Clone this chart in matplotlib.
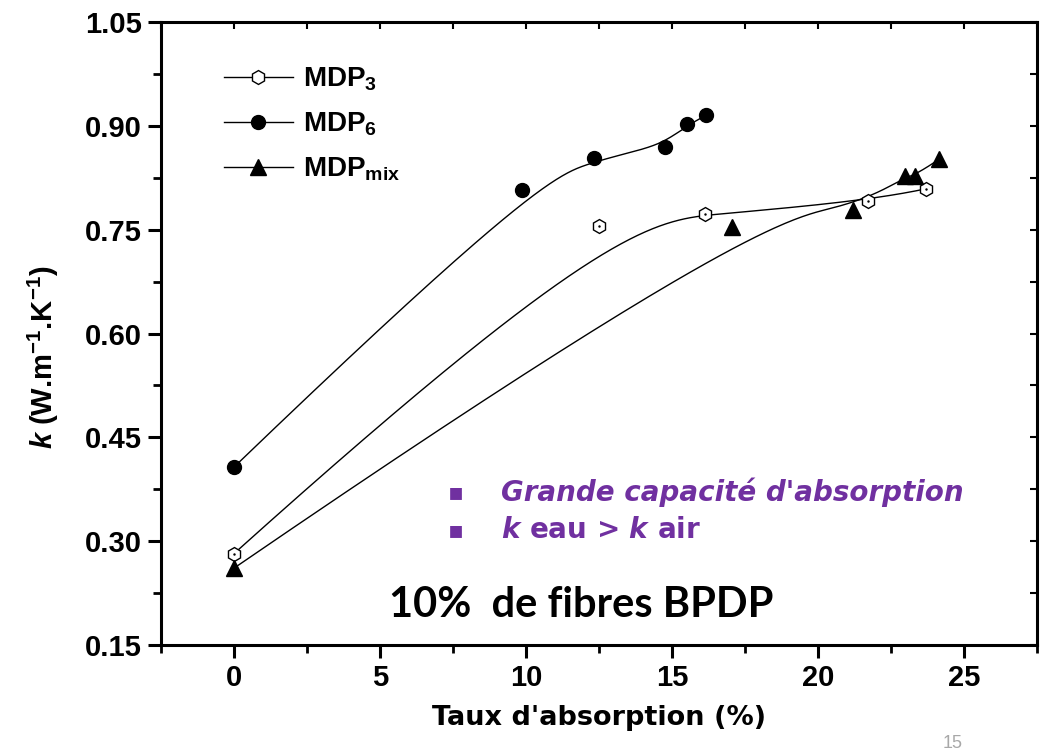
import numpy as np
import matplotlib
matplotlib.use("Agg")
import matplotlib.pyplot as plt
from matplotlib.lines import Line2D
from matplotlib.ticker import MultipleLocator, FormatStrFormatter

plt.rcParams['font.family'] = 'Liberation Sans'
plt.rcParams['mathtext.fontset'] = 'custom'
plt.rcParams['mathtext.rm'] = 'DejaVu Sans'
plt.rcParams['mathtext.it'] = 'DejaVu Sans:italic:bold'
plt.rcParams['mathtext.bf'] = 'Liberation Sans:bold'
plt.rcParams['mathtext.bfit'] = 'Liberation Sans:italic:bold'

# data
x_mdp3 = [0, 12.49, 16.15, 21.71, 23.70]
y_mdp3 = [0.282, 0.755, 0.772, 0.791, 0.809]

x_mdp6 = [0, 9.87, 12.33, 14.75, 15.52, 16.18]
y_mdp6 = [0.407, 0.807, 0.853, 0.869, 0.902, 0.915]

x_mix = [0, 17.06, 21.19, 23.00, 23.33, 24.16]
y_mix = [0.261, 0.754, 0.779, 0.828, 0.828, 0.852]

labels = [r"MDP$_{\mathbf{3}}$", r"MDP$_{\mathbf{6}}$", r"MDP$_{\mathbf{mix}}$"]


def basis(i, k, u, t):
    # Cox-de Boor recursion
    if k == 0:
        return ((t[i] <= u) & (u < t[i + 1])).astype(float)
    a = 0.0
    b = 0.0
    if t[i + k] != t[i]:
        a = (u - t[i]) / (t[i + k] - t[i]) * basis(i, k - 1, u, t)
    if t[i + k + 1] != t[i + 1]:
        b = (t[i + k + 1] - u) / (t[i + k + 1] - t[i + 1]) * basis(i + 1, k - 1, u, t)
    return a + b


def bspline(xs, ys, n=300, k=3):
    # clamped B-spline with the points as control points (Origin style)
    m = len(xs)
    t = np.r_[[0.0] * k, np.linspace(0, 1, m - k + 1), [1.0] * k]
    u = np.linspace(0, 1 - 1e-9, n)
    bx = np.zeros(n)
    by = np.zeros(n)
    for i in range(m):
        b = basis(i, k, u, t)
        bx += b * xs[i]
        by += b * ys[i]
    return bx, by


fig = plt.figure(figsize=(10.42, 7.53), dpi=100)
ax = fig.add_axes([0.1545, 0.1434, 0.8405, 0.8274])

for xs, ys in [(x_mdp3, y_mdp3), (x_mdp6, y_mdp6), (x_mix, y_mix)]:
    sx, sy = bspline(xs, ys)
    ax.plot(sx, sy, color='black', lw=1.0, zorder=2)

ax.plot(x_mdp3, y_mdp3, 'h', ms=10, mfc='white', mec='black', mew=1.0, zorder=3)
ax.plot(x_mdp3, y_mdp3, '.', ms=1.5, color='black', zorder=4)
ax.plot(x_mdp6, y_mdp6, 'o', ms=10, color='black', zorder=3)
ax.plot(x_mix, y_mix, '^', ms=11, color='black', zorder=3)

ax.set_xlim(-2.5, 27.5)
ax.set_ylim(0.15, 1.05)
ax.xaxis.set_major_locator(MultipleLocator(5))
ax.xaxis.set_minor_locator(MultipleLocator(2.5))
ax.yaxis.set_major_locator(MultipleLocator(0.15))
ax.yaxis.set_minor_locator(MultipleLocator(0.075))
ax.yaxis.set_major_formatter(FormatStrFormatter('%.2f'))

for s in ax.spines.values():
    s.set_linewidth(2.2)
ax.tick_params(which='major', direction='out', length=9.5, width=2.2,
               labelsize=21, pad=4.5)
ax.tick_params(which='minor', direction='out', length=5.5, width=2.0)
for lab in ax.get_xticklabels() + ax.get_yticklabels():
    lab.set_fontweight('bold')

# inward ticks on the top and right frame
ax2 = ax.secondary_xaxis('top')
ax2.tick_params(which='both', direction='in', length=5, width=1.5, labeltop=False)
ax2.set_xticks(np.arange(-2.5, 27.6, 2.5))
ax2.set_xticklabels([])
ax3 = ax.secondary_yaxis('right')
ax3.tick_params(which='both', direction='in', length=5, width=1.5)
ax3.set_yticks(np.arange(0.15, 1.051, 0.075))
ax3.set_yticklabels([])

ax.set_xlabel("Taux d'absorption (%)", fontsize=19.5, fontweight='bold',
              family='DejaVu Sans', labelpad=9)
fig.text(0.042, 0.525, r"$\mathbfit{k}$" + r" (W.m$^{\mathbf{-1}}$.K$^{\mathbf{-1}}$)",
         rotation=90, fontsize=21, fontweight='bold', ha='center', va='center')

handles = [
    Line2D([], [], color='black', lw=1.0, marker='h', ms=10, mfc='white', mec='black'),
    Line2D([], [], color='black', lw=1.0, marker='o', ms=10),
    Line2D([], [], color='black', lw=1.0, marker='^', ms=11),
]
ax.legend(handles, labels, loc='upper left', bbox_to_anchor=(0.059, 0.948),
          frameon=False, prop={'family': 'Liberation Sans', 'weight': 'bold', 'size': 20},
          handlelength=2.5, handletextpad=0.35, labelspacing=0.62, borderaxespad=0)

purple = '#7030A0'
fig.text(0.437, 0.346, "\u25aa", color=purple, fontsize=17, ha='center', va='center',
         family='DejaVu Sans')
fig.text(0.437, 0.296, "\u25aa", color=purple, fontsize=17, ha='center', va='center',
         family='DejaVu Sans')
fig.text(0.481, 0.346, "Grande capacité d'absorption", color=purple, fontsize=20,
         family='DejaVu Sans', style='oblique', weight='bold', ha='left', va='center')
fig.text(0.481, 0.296, r"$\mathit{k}$ eau > $\mathit{k}$ air", color=purple, fontsize=20,
         family='DejaVu Sans', weight='bold', ha='left', va='center')

fig.text(0.558, 0.196, "10%  de fibres BPDP", fontsize=30, fontweight='bold',
         family='Lato', ha='center', va='center')

fig.text(0.914, 0.001, "15", fontsize=13, color='#a8a8a8', ha='center', va='bottom')

fig.savefig("out.png", dpi=100)
